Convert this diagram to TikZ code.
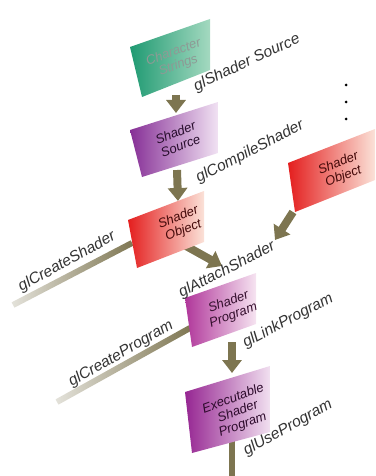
\documentclass[tikz,border=0pt]{standalone}
\usepackage{fontspec}
\setmainfont{Liberation Sans}[ItalicFont={Liberation Sans Italic}]
\usetikzlibrary{arrows.meta,fadings}

\definecolor{arrowcol}{HTML}{7D7550}
\definecolor{lblgray}{HTML}{333333}
\definecolor{grnL}{HTML}{1F9A72}
\definecolor{grnM}{HTML}{3BA882}
\definecolor{grnR}{HTML}{A4D9C0}
\definecolor{purL}{HTML}{862F96}
\definecolor{purM}{HTML}{B574C2}
\definecolor{purR}{HTML}{F1E2F3}
\definecolor{redL}{HTML}{E41E1E}
\definecolor{redM}{HTML}{EE6E5C}
\definecolor{redR}{HTML}{FBE2D8}
\definecolor{magL}{HTML}{B0369A}
\definecolor{magM}{HTML}{D888C6}
\definecolor{magR}{HTML}{F6E4F1}
\definecolor{exeL}{HTML}{962692}
\definecolor{exeM}{HTML}{C275BF}
\definecolor{exeR}{HTML}{F1E0F0}
\definecolor{cstext}{HTML}{8E9A95}

\tikzfading[name=fadetoleft, left color=transparent!80, right color=transparent!0]

\tikzset{
  boxtext/.style={font=\itshape\fontsize{13}{14}\selectfont, align=center, inner sep=0pt, text=#1},
  lbl/.style={font=\itshape\fontsize{15.5}{17}\selectfont, text=lblgray, inner sep=0pt},
  shaft/.style={draw=arrowcol, line width=8pt, -{Triangle[width=19pt,length=13pt]}},
  bar/.style={draw=arrowcol, line width=6pt, path fading=fadetoleft},
  stem/.style={draw=arrowcol, line width=6pt},
}

\begin{document}
\begin{tikzpicture}[x=1pt,y=-1pt]
\useasboundingbox (0,0) rectangle (375,476);

% connector end points
\coordinate (cs-out) at (176,95);
\coordinate (ss-in) at (176,113);
\coordinate (ss-out) at (177,170);
\coordinate (so-in) at (178,201);
\coordinate (so-out) at (186,246);
\coordinate (att) at (222,266);
\coordinate (so2-out) at (293,212);
\coordinate (att2) at (275,240);
\coordinate (so-left) at (132,243);
\coordinate (cshader-end) at (13,305);
\coordinate (sp-left) at (190,328);
\coordinate (cprog-end) at (57,402);
\coordinate (sp-out) at (232,342);
\coordinate (esp-in) at (232,373);
\coordinate (esp-out) at (232,440);
\coordinate (use-end) at (232,476);

% long bars and stem (behind boxes)
\draw[bar] (so-left) -- (cshader-end);
\draw[bar] (sp-left) -- (cprog-end);
\draw[stem] (esp-out) -- (use-end);

% arrows
\draw[shaft] (cs-out) -- (ss-in);
\draw[shaft] (ss-out) -- (so-in);
\draw[shaft] (so-out) -- (att);
\draw[shaft] (so2-out) -- (att2);
\draw[shaft] (sp-out) -- (esp-in);

% boxes
\shade[left color=grnL, middle color=grnM, right color=grnR]
  (130,47) -- (210,19) -- (210,70) -- (142,97) -- cycle;
\shade[left color=purL, middle color=purM, right color=purR]
  (130,130) -- (218,102) -- (218,153) -- (142,177) -- cycle;
\shade[left color=redL, middle color=redM, right color=redR]
  (128,220) -- (204,191) -- (204,242) -- (137,268) -- cycle;
\shade[left color=redL, middle color=redM, right color=redR]
  (288,163) -- (375,129) -- (375,180) -- (295,212) -- cycle;
\shade[left color=magL, middle color=magM, right color=magR]
  (185,298) -- (256,273) -- (256,324) -- (192,347) -- cycle;
\shade[left color=exeL, middle color=exeM, right color=exeR]
  (185,392) -- (270,366) -- (270,432) -- (192,453) -- cycle;

% box texts
\node[boxtext=cstext, rotate=20] (cs) at (176,59) {Character\\Strings};
\node[boxtext=black!70!purL, rotate=21] (ss) at (178,139) {Shader\\Source};
\node[boxtext=black!70!redL, rotate=21] (so) at (181,224) {Shader\\Object};
\node[boxtext=black!70!redL, rotate=21] (so2) at (341,170) {Shader\\Object};
\node[boxtext=black!70!magL, rotate=20] (sp) at (231,309) {Shader\\Program};
\node[boxtext=black!70!exeL, rotate=20] (esp) at (238,412) {Executable\\Shader\\Program};

% labels
\node[lbl, rotate=25] (l1) at (247,63) {glShader Source};
\node[lbl, rotate=27] (l2) at (250,152) {glCompileShader};
\node[lbl, rotate=29] (l3) at (67,262) {glCreateShader};
\node[lbl, rotate=27] (l4) at (227,270) {glAttachShader};
\node[lbl, rotate=28] (l5) at (288,321) {glLinkProgram};
\node[lbl, rotate=30] (l6) at (121,354) {glCreateProgram};
\node[lbl, rotate=29] (l7) at (288,428) {glUseProgram};

% ellipsis dots
\fill[black] (346,85) circle (1.5) (346,102) circle (1.5) (346,119) circle (1.5);
\end{tikzpicture}
\end{document}
